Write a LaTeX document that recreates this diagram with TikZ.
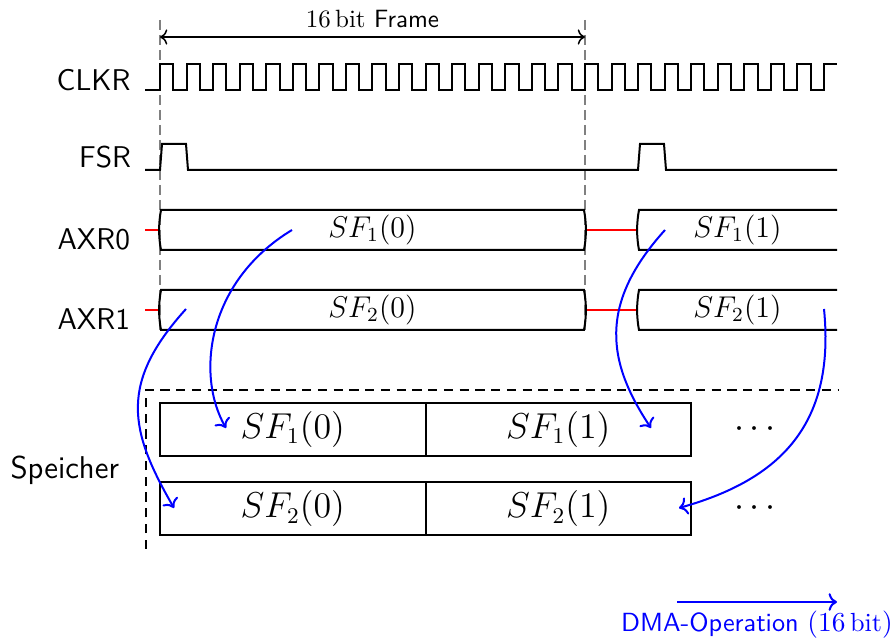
\documentclass[tikz,border=0pt]{standalone}
\usepackage{fontspec}
\usepackage{tikz}
\usetikzlibrary{arrows.meta, positioning, calc}
\tikzset{
    sig/.style={thick, line join=miter},
    bus/.style={thick},
    idle/.style={thick, red},
    guide/.style={thick, gray, dash pattern=on 4pt off 2pt},
    memframe/.style={thick, dash pattern=on 3.7pt off 2.6pt},
    memcell/.style={rectangle, draw, thick, minimum width=106.2pt,
                    minimum height=21.2pt, inner sep=0pt, outer sep=0pt,
                    font=\fontsize{13.3}{16}\selectfont},
    siglabel/.style={font=\sffamily\large, anchor=base east, inner sep=0pt},
    dma/.style={thick, blue, ->},
}

\begin{document}
\begin{tikzpicture}[x=0.4pt, y=-0.4pt]
    \useasboundingbox (0,0) rectangle (894,638);

    % Frame boundaries
    \coordinate (f0) at (160,20);
    \coordinate (f1) at (585,20);
    \draw[guide] (f0) -- ++(0,315);
    \draw[guide] (f1) -- ++(0,315);
    \draw[semithick, <->] ($(f0)+(0,17)$) -- ($(f1)+(0,17)$)
        node[midway, above, font=\sffamily] {$16\,\mathrm{bit}$ Frame};

    % Signal names
    \node[siglabel] (lclk) at (131,91) {CLKR};
    \node[siglabel] (lfsr) at (131.5,168) {FSR};
    \node[siglabel] (lax0) at (130.5,250) {AXR0};
    \node[siglabel] (lax1) at (130.5,330) {AXR1};
    \node[siglabel, font=\sffamily\fontsize{12.6}{15}\selectfont] (lmem) at (119.5,479) {Speicher};

    % CLKR
    \draw[sig] (145,90) -- (160,90)
        \foreach \k in {1,...,25} {-- ++(0,-26) -- ++(13.28,0) -- ++(0,26) -- ++(13.28,0)}
        -- ++(0,-26) -- ++(13.28,0);

    % FSR
    \draw[sig] (145,170) -- (160,170) -- (162,144) -- (186,144) -- (188,170)
        -- (638,170) -- (640,144) -- (664,144) -- (666,170) -- (837,170);

    % AXR0 and AXR1
    \foreach \n/\c in {1/230, 2/310} {
        \draw[idle] (145,\c) -- (160,\c);
        \draw[idle] (585,\c) -- (638,\c);
        \draw[bus] (161,\c-20) -- (584,\c-20)
            .. controls (586.5,\c-7) and (586.5,\c+7) .. (584,\c+20)
            -- (161,\c+20)
            .. controls (158.5,\c+7) and (158.5,\c-7) .. (161,\c-20) -- cycle;
        \draw[bus] (837,\c-20) -- (639,\c-20)
            .. controls (636.5,\c-7) and (636.5,\c+7) .. (639,\c+20) -- (837,\c+20);
        \node[font=\large] (sf\n0) at (372.5,\c) {$SF_\n(0)$};
        \node[font=\large] (sf\n1) at (737.5,\c) {$SF_\n(1)$};
    }

    % Speicher
    \draw[memframe] (146,549) -- (146,390) -- (838,390);
    \node[memcell] (m10) at (292.75,429.3) {$SF_1(0)$};
    \node[memcell, right=0pt of m10] (m11) {$SF_1(1)$};
    \node[memcell] (m20) at (292.75,509) {$SF_2(0)$};
    \node[memcell, right=0pt of m20] (m21) {$SF_2(1)$};
    \node[font=\fontsize{13.3}{16}\selectfont] (dots1) at ($(m11.east)+(64,0)$) {$\cdots$};
    \node[font=\fontsize{13.3}{16}\selectfont] (dots2) at ($(m21.east)+(64,0)$) {$\cdots$};

    % DMA transfers
    \coordinate (s10) at (292,230);
    \coordinate (s20) at (186,309);
    \coordinate (s11) at (665,230);
    \coordinate (s21) at (824,309);
    \coordinate (e10) at (226,428);
    \coordinate (e20) at (174,508);
    \coordinate (e11) at (651,428);
    \coordinate (e21) at (679,508);
    \draw[dma] (s10) .. controls +(-86,52) and +(-30,-52) .. (e10);
    \draw[dma] (s20) .. controls +(-67,74) and +(-45,-78) .. (e20);
    \draw[dma] (s11) .. controls +(-67,74) and +(-44,-66) .. (e11);
    \draw[dma] (s21) .. controls +(12,120) and +(96,-27) .. (e21);

    % Legend
    \coordinate (l0) at (677,602);
    \coordinate (l1) at (837,602);
    \draw[thick, blue, ->] (l0) -- (l1)
        node[midway, below, font=\sffamily\fontsize{10.5}{12.6}\selectfont]
        {DMA-Operation $(16\,\mathrm{bit})$};
\end{tikzpicture}
\end{document}
